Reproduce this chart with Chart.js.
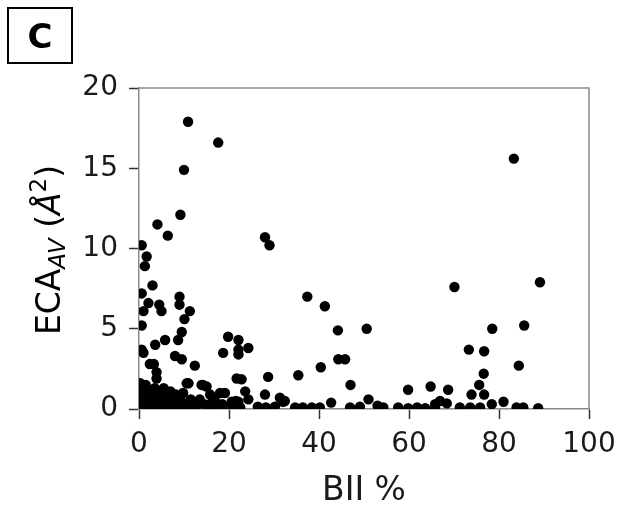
<!DOCTYPE html>
<html>
<head>
<meta charset="utf-8">
<script src="https://cdn.jsdelivr.net/npm/chart.js@4.4.1/dist/chart.umd.min.js"></script>
<style>
html,body{margin:0;padding:0;background:#fff;}
#wrap{position:relative;width:622px;height:509px;}
</style>
</head>
<body>
<div id="wrap"><canvas id="c" width="622" height="509"></canvas></div>
<script>
// BII % (x) values
const bii = [
  10.9,17.6,10.0,9.2,4.1,6.4,0.6,28.0,29.0,83.3,70.1,89.1,37.4,41.3,44.2,50.6,44.3,45.8,35.4,40.4,
  47.0,59.8,64.8,68.7,73.3,76.7,78.5,85.6,84.4,76.6,75.6,73.9,76.7,66.9,65.8,68.4,81.0,78.4,71.3,73.6,
  75.8,83.9,85.4,88.7,51.0,42.7,32.0,34.7,36.4,38.4,40.2,46.9,49.1,53.0,54.3,57.6,59.8,61.8,63.6,65.8,
  1.7,1.3,3.0,0.6,2.1,4.5,5.0,1.0,9.0,9.0,11.3,10.1,9.5,8.7,5.8,3.6,0.6,0.6,1.0,2.4,
  3.3,8.0,9.5,12.4,3.9,3.9,11.0,13.9,15.0,9.8,15.8,18.0,19.8,22.1,18.7,22.1,24.3,22.1,21.7,22.8,
  23.6,28.7,28.0,24.3,31.3,32.4,20.6,22.1,26.4,28.2,30.2,
  0.3,0.8,1.5,2.2,0.5,1.2,2.8,3.5,4.2,5.0,5.8,6.5,7.2,7.8,0.2,1.9,3.1,4.6,6.1,8.5,
  9.3,10.2,11.0,12.0,12.8,13.5,14.5,15.3,16.2,17.0,18.5,19.5,20.5,21.5,22.5,2.5,3.8,5.3,6.9,0.9,
  1.6,4.0,5.5,7.0,8.2,9.0,11.5,0.4,0.1,10.6,14.2,16.8,19.1
];
// ECA_AV (Å²) values
const eca = [
  17.9,16.6,14.9,12.1,11.5,10.8,10.2,10.7,10.2,15.6,7.6,7.9,7.0,6.4,4.9,5.0,3.1,3.1,2.1,2.6,
  1.5,1.2,1.4,1.2,3.7,3.6,5.0,5.2,2.7,2.2,1.5,0.9,0.9,0.5,0.3,0.35,0.45,0.3,0.1,0.1,
  0.1,0.1,0.1,0.05,0.6,0.4,0.45,0.1,0.1,0.1,0.1,0.1,0.15,0.2,0.1,0.1,0.05,0.1,0.05,0.1,
  9.5,8.9,7.7,7.2,6.6,6.5,6.1,6.1,7.0,6.5,6.1,5.6,4.8,4.3,4.3,4.0,5.2,3.7,3.5,2.8,
  2.8,3.3,3.1,2.7,2.3,1.9,1.6,1.5,1.4,1.0,0.9,1.0,4.5,4.3,3.5,3.7,3.8,3.4,1.9,1.85,
  1.1,2.0,0.9,0.6,0.7,0.5,0.45,0.45,0.15,0.1,0.15,
  1.6,1.2,1.5,1.1,0.7,0.4,0.8,1.3,0.6,1.0,0.5,0.9,0.4,0.7,0.1,0.2,0.1,0.2,0.1,0.2,
  0.5,0.3,0.1,0.4,0.2,0.6,0.3,0.1,0.4,0.2,0.3,0.1,0.2,0.5,0.1,0.5,0.3,0.3,0.1,0.9,
  0.6,1.0,1.3,1.1,0.9,0.1,0.6,0.3,1.0,1.6,1.5,0.6,1.0
];
const xTicks = [0, 20, 40, 60, 80, 100];
const yTicks = [0, 5, 10, 15, 20];
const xTitle = 'BII %';
const panelLabel = 'C';

const points = bii.map((x, i) => ({x: x, y: eca[i]}));

const FONT = "'DejaVu Sans', sans-serif";

const extras = {
  id: 'extras',
  afterDraw(chart) {
    const ctx = chart.ctx;
    const a = chart.chartArea;
    ctx.save();
    // top & right frame
    ctx.strokeStyle = '#8a8a8a';
    ctx.lineWidth = 1.5;
    ctx.beginPath();
    ctx.moveTo(a.left, a.top);
    ctx.lineTo(a.right, a.top);
    ctx.lineTo(a.right, a.bottom);
    ctx.stroke();
    // panel label box
    ctx.strokeStyle = '#000';
    ctx.lineWidth = 2;
    ctx.strokeRect(8, 8, 64, 55);
    ctx.fillStyle = '#000';
    ctx.font = "bold 34px " + FONT;
    ctx.textAlign = 'center';
    ctx.textBaseline = 'alphabetic';
    ctx.fillText(panelLabel, 40, 48);
    // y title with subscript / superscript
    const segs = [
      {t: 'ECA', f: "33px " + FONT, dy: 0},
      {t: 'AV', f: "italic 23px " + FONT, dy: 5},
      {t: ' (', f: "33px " + FONT, dy: 0},
      {t: 'Å', f: "italic 33px " + FONT, dy: 0},
      {t: '2', f: "23px " + FONT, dy: -14},
      {t: ')', f: "33px " + FONT, dy: 0}
    ];
    let total = 0;
    segs.forEach(s => { ctx.font = s.f; s.w = ctx.measureText(s.t).width; total += s.w; });
    ctx.translate(48, 250);
    ctx.rotate(-Math.PI / 2);
    ctx.textAlign = 'left';
    let x = -total / 2;
    segs.forEach(s => {
      ctx.font = s.f;
      ctx.fillText(s.t, x, 12 + s.dy);
      x += s.w;
    });
    ctx.restore();
  }
};

function fixY(scale) { scale.width = 139; scale.paddingTop = 0; scale.paddingBottom = 0; scale.paddingLeft = 0; scale.paddingRight = 0; }
function fixX(scale) { scale.height = 100; scale.paddingLeft = 0; scale.paddingRight = 0; scale.paddingTop = 0; scale.paddingBottom = 0; }

new Chart(document.getElementById('c'), {
  type: 'scatter',
  data: {
    datasets: [{
      data: points,
      backgroundColor: '#000',
      borderColor: '#000',
      borderWidth: 0,
      pointRadius: 5.2,
      pointHoverRadius: 5.2,
      clip: 0
    }]
  },
  options: {
    responsive: false,
    animation: false,
    events: [],
    layout: {padding: {left: 0, top: 88, right: 33, bottom: 0}},
    plugins: {legend: {display: false}, tooltip: {enabled: false}},
    scales: {
      x: {
        type: 'linear', min: 0, max: 100,
        afterFit: fixX,
        afterBuildTicks: (s) => { s.ticks = xTicks.map(v => ({value: v})); },
        ticks: {font: {family: FONT, size: 28}, color: '#1a1a1a', padding: 9, maxRotation: 0, autoSkip: false},
        grid: {display: true, drawOnChartArea: false, drawTicks: true, tickLength: 10, tickColor: '#333', tickWidth: 1.5},
        border: {display: true, color: '#8a8a8a', width: 1.5},
        title: {display: true, text: xTitle, font: {family: FONT, size: 33, lineHeight: 1}, color: '#1a1a1a', padding: {top: 0, bottom: 1}}
      },
      y: {
        type: 'linear', min: 0, max: 20,
        afterFit: fixY,
        afterBuildTicks: (s) => { s.ticks = yTicks.map(v => ({value: v})); },
        ticks: {font: {family: FONT, size: 28}, color: '#1a1a1a', padding: 11, autoSkip: false},
        grid: {display: true, drawOnChartArea: false, drawTicks: true, tickLength: 10, tickColor: '#333', tickWidth: 1.5},
        border: {display: true, color: '#8a8a8a', width: 1.5}
      }
    }
  },
  plugins: [extras]
});
</script>
</body>
</html>
